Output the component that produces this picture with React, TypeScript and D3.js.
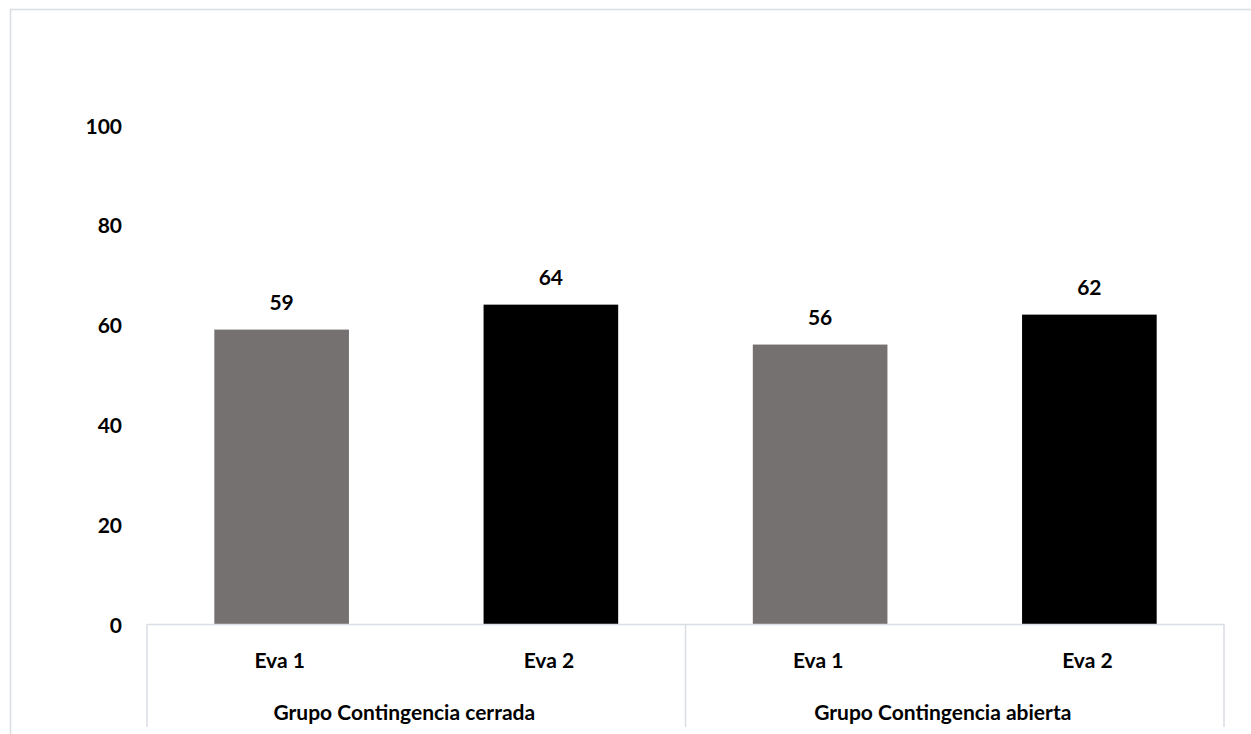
import React from "react";
import * as d3 from "d3";

// Chart data
const categories = ["Eva 1", "Eva 2", "Eva 1", "Eva 2"];
const groups = ["Grupo Contingencia cerrada", "Grupo Contingencia abierta"];
const values = [59, 64, 56, 62];
const barColors = ["#767171", "#000000", "#767171", "#000000"];
const yTicks = [0, 20, 40, 60, 80, 100];

const W = 1251;
const H = 734;
const plotLeft = 147;
const plotRight = 1224;
const yZero = 624;
const yTop = 125;
const font = "Lato, 'Open Sans', sans-serif";
const fontSize = 21;
const lineColor = "#d9dde4";

export default function App() {
  const idx = categories.map((_, i) => i);
  const x = d3
    .scaleBand<number>()
    .domain(idx)
    .range([plotLeft, plotRight])
    .paddingInner(0.5)
    .paddingOuter(0.25);
  const y = d3.scaleLinear().domain([0, 100]).range([yZero, yTop]);
  const step = x.step();
  const groupSize = categories.length / groups.length;

  const textProps = {
    dominantBaseline: "central" as const,
    fontFamily: font,
    fontWeight: 700,
    fontSize,
    fill: "#000",
  };

  return (
    <div style={{ position: "absolute", left: 0, top: 0 }}>
      <svg width={W} height={H} style={{ display: "block", background: "#fff" }}>
        {/* outer frame */}
        <rect x={10.5} y={9.5} width={W + 20} height={H + 20} fill="none" stroke={lineColor} strokeWidth={1.5} />

        {/* y tick labels */}
        {yTicks.map((t) => (
          <text key={t} x={122} y={y(t)} textAnchor="end" {...textProps}>
            {t}
          </text>
        ))}

        {/* bars */}
        {values.map((v, i) => (
          <rect
            key={i}
            x={x(i)}
            y={y(v)}
            width={x.bandwidth()}
            height={y(0) - y(v)}
            fill={barColors[i]}
          />
        ))}

        {/* value labels */}
        {values.map((v, i) => (
          <text
            key={"l" + i}
            x={(x(i) as number) + x.bandwidth() / 2}
            y={y(v) - 28}
            textAnchor="middle"
            {...textProps}
          >
            {v}
          </text>
        ))}

        {/* category axis */}
        <line x1={plotLeft} x2={plotRight} y1={yZero + 0.5} y2={yZero + 0.5} stroke={lineColor} strokeWidth={1.5} />
        {d3.range(groups.length + 1).map((g) => {
          const gx = plotLeft + g * groupSize * step;
          return (
            <line key={"g" + g} x1={gx} x2={gx} y1={yZero} y2={727} stroke={lineColor} strokeWidth={1.5} />
          );
        })}

        {categories.map((c, i) => (
          <text
            key={"c" + i}
            x={(x(i) as number) + x.bandwidth() / 2 - 2}
            y={659}
            textAnchor="middle"
            {...textProps}
          >
            {c}
          </text>
        ))}

        {groups.map((g, gi) => (
          <text
            key={"gl" + gi}
            x={plotLeft + (gi + 0.5) * groupSize * step - 12}
            y={711}
            textAnchor="middle"
            {...textProps}
          >
            {g}
          </text>
        ))}
      </svg>
    </div>
  );
}
